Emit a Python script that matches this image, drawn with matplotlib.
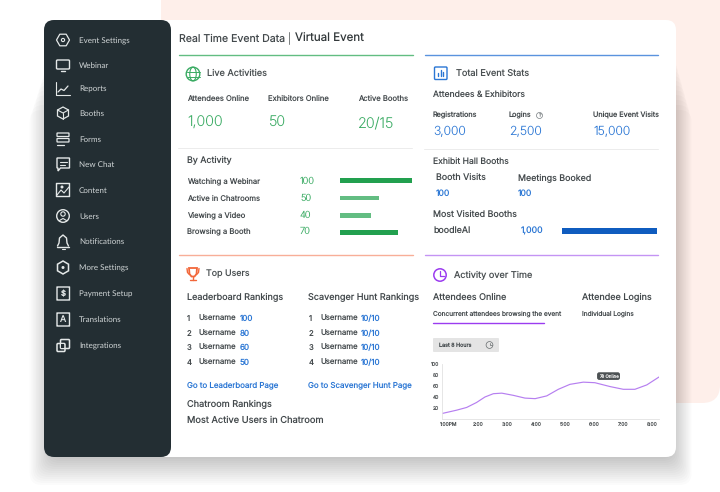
import matplotlib
matplotlib.use('Agg')
import matplotlib.pyplot as plt
from matplotlib.patches import FancyBboxPatch, Circle, Rectangle, Polygon, Ellipse

plt.rcParams['font.family'] = ['Inter', 'DejaVu Sans']
plt.rcParams['text.hinting'] = 'no_hinting'
plt.rcParams['text.hinting_factor'] = 1

# sidebar
menu_items = ['Event Settings', 'Webinar', 'Reports', 'Booths', 'Forms', 'New Chat', 'Content',
              'Users', 'Notifications', 'More Settings', 'Payment Setup', 'Translations', 'Integrations']

# live activities
live_labels = ['Attendees Online', 'Exhibitors Online', 'Active Booths']
live_values = ['1,000', '50', '20/15']
activity_names = ['Watching a Webinar', 'Active in Chatrooms', 'Viewing a Video', 'Browsing a Booth']
activity_counts = [100, 50, 40, 70]
activity_bars = [100, 54, 43, 81]  # bar length as drawn, % of the track

# total stats
stat_labels = ['Registrations', 'Logins', 'Unique Event Visits']
stat_values = ['3,000', '2,500', '15,000']
booth_labels = ['Booth Visits', 'Meetings Booked']
booth_values = [100, 100]
visited_name = 'boodleAI'
visited_value = '1,000'
visited_bar = [100]

# top users
leader_scores = [100, 80, 60, 50]
hunt_scores = ['10/10', '10/10', '10/10', '10/10']

# activity over time
hours = [0.76, 1.26, 1.61, 1.95, 2.24, 2.53, 2.82, 3.22, 3.62, 3.97, 4.37, 4.77, 5.17, 5.63, 6.03, 6.55, 7.01, 7.41,
         7.82, 8.23]
online = [10, 16, 21, 30, 40, 46, 47, 43, 38, 37, 42, 54, 63, 67, 66, 59, 54, 54, 62, 76]
hour_ticks = [1, 2, 3, 4, 5, 6, 7, 8]
hour_labels = ['1:00PM', '2:00', '3:00', '4:00', '5:00', '6:00', '7:00', '8:00']
online_ticks = [20, 40, 60, 80, 100]

GREEN = '#3aab63'
BLUE = '#2a76d4'
DARK = '#43494c'
ORANGE = '#f2673a'
PURPLE = '#9b3cf0'
SIDE = '#232e33'
ICON = '#e4e8e8'

fig = plt.figure(figsize=(7.2, 4.92), dpi=100)
ax = fig.add_axes([0, 0, 1, 1])
ax.set_xlim(0, 720)
ax.set_ylim(492, 0)
ax.axis('off')


def box(x0, y0, x1, y1, r, color, alpha=1.0, z=1, **kw):
    p = FancyBboxPatch((x0 + r, y0 + r), x1 - x0 - 2 * r, y1 - y0 - 2 * r,
                       boxstyle=f'round,pad={r},rounding_size={r}', fc=color, ec='none', alpha=alpha, zorder=z, **kw)
    ax.add_patch(p)
    return p


def outline(x0, y0, x1, y1, color, lw=0.9, r=0.0, z=4):
    r = max(r, 0.01)
    ax.add_patch(FancyBboxPatch((x0 + r, y0 + r), x1 - x0 - 2 * r, y1 - y0 - 2 * r,
                                boxstyle=f'round,pad={r},rounding_size={r}', fc='none', ec=color, lw=lw, zorder=z))


def t(x, y, s, size=6.0, color=DARK, **kw):
    ax.text(x, y + 0.6, s, fontsize=size, color=color, va='center', ha=kw.pop('ha', 'left'), zorder=6, **kw)


def line(xs, ys, color, lw=0.9, z=4):
    ax.plot(xs, ys, color=color, lw=lw, zorder=z, solid_capstyle='round')


def ring(x, y, r, color, lw=0.9, z=4):
    ax.add_patch(Circle((x, y), r, fc='none', ec=color, lw=lw, zorder=z))


# background shape and card, shadow fades out towards the top
box(161, -30, 720, 403, 18, '#feefea')
for g in range(0, 30, 2):
    box(52 - 0.8 * g, 40 + 2.5 * g, 672 + 0.7 * g, 457 + g, 12, '#000000', alpha=0.014, z=2)
box(44, 20, 676, 457, 10, '#ffffff', z=3)
box(44, 20, 171, 457, 10, SIDE, z=3.5)

# sidebar text and icons
menu_y = [40.4, 65, 88.5, 113, 138.9, 164, 190, 216, 241.5, 267.5, 293.5, 319.5, 345.5]
for name, y in zip(menu_items, menu_y):
    t(79, y, name, size=6.0, color='#d0d5d6', family=['Lato', 'DejaVu Sans'])

ix = 63
# gear
ax.add_patch(Polygon([(ix - 6.5, 40), (ix - 3.2, 34.2), (ix + 3.2, 34.2), (ix + 6.5, 40), (ix + 3.2, 45.8),
                      (ix - 3.2, 45.8)], closed=True, fc='none', ec=ICON, lw=0.9, zorder=4, joinstyle='round'))
ring(ix, 40, 1.6, ICON, 0.8)
# monitor
outline(ix - 6.5, 60, ix + 6.5, 69, ICON, 1.0, 1)
line([ix - 2, ix + 2], [70.5, 70.5], ICON, 1.0)
# reports
line([ix - 7, ix - 7, ix + 7], [82, 94.5, 94.5], ICON, 0.8)
line([ix - 5, ix - 2, ix + 1, ix + 5], [92, 89, 90.5, 86], ICON, 0.9)
# booths
ax.add_patch(Polygon([(ix, 107), (ix + 5.5, 110), (ix + 5.5, 116), (ix, 119), (ix - 5.5, 116), (ix - 5.5, 110)],
                     closed=True, fc='none', ec=ICON, lw=0.9, zorder=4))
line([ix - 5.5, ix, ix + 5.5], [110, 113, 110], ICON, 0.8)
line([ix, ix], [113, 119], ICON, 0.8)
# forms
outline(ix - 6, 133, ix + 6, 136.5, ICON, 0.9, 0.5)
outline(ix - 6, 138.5, ix + 6, 142, ICON, 0.9, 0.5)
line([ix - 6, ix + 1], [144.5, 144.5], ICON, 0.9)
# chat
ax.add_patch(Polygon([(ix - 6, 158), (ix + 6.5, 158), (ix + 6.5, 168), (ix - 2.5, 168), (ix - 5, 171), (ix - 5, 168),
                      (ix - 6, 168)], closed=True, fc='none', ec=ICON, lw=1.0, zorder=4))
line([ix - 3, ix + 3.5], [161.5, 161.5], ICON, 0.8)
line([ix - 3, ix + 1.5], [164.5, 164.5], ICON, 0.8)
# content
outline(ix - 6.5, 183.5, ix + 6.5, 196.5, ICON, 1.0)
line([ix - 6, ix - 2, ix + 1, ix + 6], [195, 190, 193, 187], ICON, 0.8)
ax.add_patch(Circle((ix - 1, 187), 1.5, fc=ICON, ec='none', zorder=4))
# users
ring(ix, 216, 6.3, ICON, 1.0)
ring(ix, 214, 2.2, ICON, 0.8)
line([ix - 3.5, ix, ix + 3.5], [220.5, 218.5, 220.5], ICON, 0.8)
# bell
line([ix - 5.5, ix - 4, ix - 3.5, ix, ix + 3.5, ix + 4, ix + 5.5], [246, 243, 238, 235, 238, 243, 246], ICON, 1.0)
line([ix - 6, ix + 6], [246.5, 246.5], ICON, 1.0)
line([ix - 1.5, ix + 1.5], [248.5, 248.5], ICON, 0.8)
# more settings
ax.add_patch(Polygon([(ix, 261), (ix + 5.5, 264.2), (ix + 5.5, 270.8), (ix, 274), (ix - 5.5, 270.8), (ix - 5.5, 264.2)],
                     closed=True, fc='none', ec=ICON, lw=1.1, zorder=4))
ax.add_patch(Circle((ix, 267.5), 1.5, fc=ICON, ec='none', zorder=4))
# payment
outline(ix - 6, 287, ix + 6.5, 300, ICON, 1.0)
t(ix + 0.2, 293.2, '$', size=5.5, color=ICON, ha='center', fontweight='bold')
# translations
outline(ix - 6, 313, ix + 6.5, 326, ICON, 1.0)
t(ix + 0.2, 319.2, 'A', size=6.5, color=ICON, ha='center')
# integrations
outline(ix - 2.5, 339.5, ix + 6.5, 348.5, ICON, 1.1, 1)
outline(ix - 6, 343.5, ix + 2, 351.5, ICON, 1.1, 1)
ax.add_patch(Rectangle((ix - 1.7, 344.3), 3, 3.5, fc=SIDE, ec='none', zorder=4.5))

# heading
t(179, 38, 'Real Time Event Data', size=7.6)
line([289, 289], [32, 44], '#7a7f80', 0.7)
t(295, 38.5, 'Virtual Event', size=8.3, color='#33393b')

# section rules
line([178.5, 412.5], [54.5, 54.5], '#62bd82', 1.0)
line([424.5, 658], [54.5, 54.5], '#5a93de', 1.0)
line([178.5, 412.5], [255, 255], '#f8ae98', 1.0)
line([424.5, 658], [255, 255], '#c494f4', 1.0)
line([178, 412], [148.3, 148.3], '#ececec', 0.7)
line([424, 658], [149.3, 149.3], '#ececec', 0.7)

# live activities
ring(193, 74, 6.8, GREEN, 1.0)
ax.add_patch(Ellipse((193, 74), 6.5, 13.6, fc='none', ec=GREEN, lw=0.8, zorder=4))
line([186.5, 199.5], [71.5, 71.5], GREEN, 0.7)
line([186.5, 199.5], [76.5, 76.5], GREEN, 0.7)
t(207, 72.8, 'Live Activities', size=6.6, color='#4b5153')
for x, lab, val in zip([187, 268.5, 358], live_labels, live_values):
    t(x, 98.5, lab, size=5.5)
    t(x, 122.5, val, size=10.4, color=GREEN, fontweight='light')
t(187, 160.5, 'By Activity', size=6.4)
activity_y = [180.5, 197.9, 214.5, 231]
for y, name, count in zip(activity_y, activity_names, activity_counts):
    t(187, y, name, size=5.5)
    t(300, y, str(count), size=6.8, color=GREEN, fontweight='light')

bar_ax = fig.add_axes([340 / 720, (492 - 240.5) / 492, 72 / 720, 67.5 / 492], zorder=5)
bar_ax.patch.set_alpha(0)
bar_ax.axis('off')
bar_ax.barh([0, 1, 2, 3], activity_bars, height=0.27, color=['#22a04f', '#63bd82', '#63bd82', '#22a04f'])
bar_ax.set_xlim(0, 100)
bar_ax.set_ylim(3.45, -0.45)

# total stats
outline(434.5, 67, 447, 79.5, BLUE, 1.0, 1)
for x, h in zip([438, 440.7, 443.4], [3.5, 6.5, 4.5]):
    line([x, x], [76.3, 76.3 - h], BLUE, 1.0)
t(456, 72.8, 'Total Event Stats', size=6.6, color='#4b5153')
t(433, 94, 'Attendees & Exhibitors', size=6.2)
for x, lab, val in zip([433, 509, 593], stat_labels, stat_values):
    t(x, 114.5, lab, size=5.2)
    t(x, 131.5, val, size=8.8, color=BLUE, fontweight='light')
ring(539.5, 115.5, 3.0, '#777d80', 0.5)
t(539.5, 115, '?', size=3.6, color='#777d80', ha='center')
t(433, 160.5, 'Exhibit Hall Booths', size=6.2)
for x, lab, val in zip([435.5, 517.5], booth_labels, booth_values):
    t(x, 177.5, lab, size=6.4)
    t(x, 193, str(val), size=6.2, color=BLUE)
t(433, 214.5, 'Most Visited Booths', size=6.4)
t(433, 229.5, visited_name, size=6.4)
t(521, 230.5, visited_value, size=6.3, color=BLUE)

top_ax = fig.add_axes([562 / 720, (492 - 234) / 492, 95 / 720, 6 / 492], zorder=5)
top_ax.patch.set_alpha(0)
top_ax.axis('off')
top_ax.barh([0], visited_bar, height=0.85, color='#0f5cbf')
top_ax.set_xlim(0, 100)
top_ax.set_ylim(-0.5, 0.5)

# top users
ax.add_patch(Polygon([(189, 268), (197, 268), (196.5, 274), (194.5, 276.5), (191.5, 276.5), (189.5, 274)],
                     closed=True, fc='none', ec=ORANGE, lw=1.3, zorder=4))
line([187, 187.5, 189.5], [268.5, 272.5, 274.5], ORANGE, 1.0)
line([199, 198.5, 196.5], [268.5, 272.5, 274.5], ORANGE, 1.0)
line([193, 193], [276.5, 279.5], ORANGE, 1.0)
line([190, 196], [280, 280], ORANGE, 1.0)
t(206, 273.5, 'Top Users', size=6.4, color='#4b5153')
t(187, 296.5, 'Leaderboard Rankings', size=6.5)
t(308.5, 296.5, 'Scavenger Hunt Rankings', size=6.55)
row_y = [318.4, 333, 347.4, 362.4]
for i, y in enumerate(row_y):
    t(187, y, str(i + 1), size=5.6)
    t(198.5, y, 'Username', size=5.6)
    t(239.5, y, str(leader_scores[i]), size=5.8, color=BLUE)
    t(309, y, str(i + 1), size=5.6)
    t(320, y, 'Username', size=5.6)
    t(361, y, hunt_scores[i], size=5.8, color=BLUE)
t(187, 384.5, 'Go to Leaderboard Page', size=5.7, color=BLUE)
t(308.5, 384.5, 'Go to Scavenger Hunt Page', size=5.7, color=BLUE)
t(187, 404, 'Chatroom Rankings', size=6.6)
t(187, 419.5, 'Most Active Users in Chatroom', size=6.7)

# activity over time
ring(440, 275, 6.2, PURPLE, 1.1)
line([440, 440, 443.5], [271, 275.5, 275.5], PURPLE, 0.9)
t(454, 274.5, 'Activity over Time', size=6.6, color='#4b5153')
t(433, 297, 'Attendees Online', size=6.5)
t(582, 297, 'Attendee Logins', size=6.5)
t(433, 313, 'Concurrent attendees browsing the event', size=4.7)
t(582, 313, 'Individual Logins', size=4.7)
line([433, 544], [322.5, 322.5], PURPLE, 1.0)
box(433, 338, 499, 352, 1, '#e4e4e4', z=3.5)
t(439, 344.5, 'Last 8 Hours', size=3.9)
ring(489.5, 345, 3.4, '#666b6d', 0.5)
line([489.5, 489.5, 491.5], [342.5, 345.2, 345.2], '#666b6d', 0.5)

line_ax = fig.add_axes([442 / 720, (492 - 419) / 492, 217 / 720, 55 / 492], zorder=5)
line_ax.patch.set_alpha(0)
line_ax.plot(hours, online, color='#b67ff0', lw=0.85)
line_ax.set_xlim(0.76, 8.24)
line_ax.set_ylim(0, 100)
line_ax.set_xticks(hour_ticks, hour_labels)
line_ax.set_yticks(online_ticks)
line_ax.tick_params(length=0, labelsize=3.6, labelcolor='#55595b', pad=2.0)
line_ax.spines[['top', 'right']].set_visible(False)
line_ax.spines[['left', 'bottom']].set_color('#e2e2e2')
line_ax.spines[['left', 'bottom']].set_linewidth(0.6)
line_ax.text(6.5, 78, '78 Online', fontsize=3.2, color='#e8e8e8', ha='center', va='center',
             bbox=dict(boxstyle='round,pad=0.35,rounding_size=0.5', fc='#4d5254', ec='none'))

fig.savefig('out.png', dpi=100)
